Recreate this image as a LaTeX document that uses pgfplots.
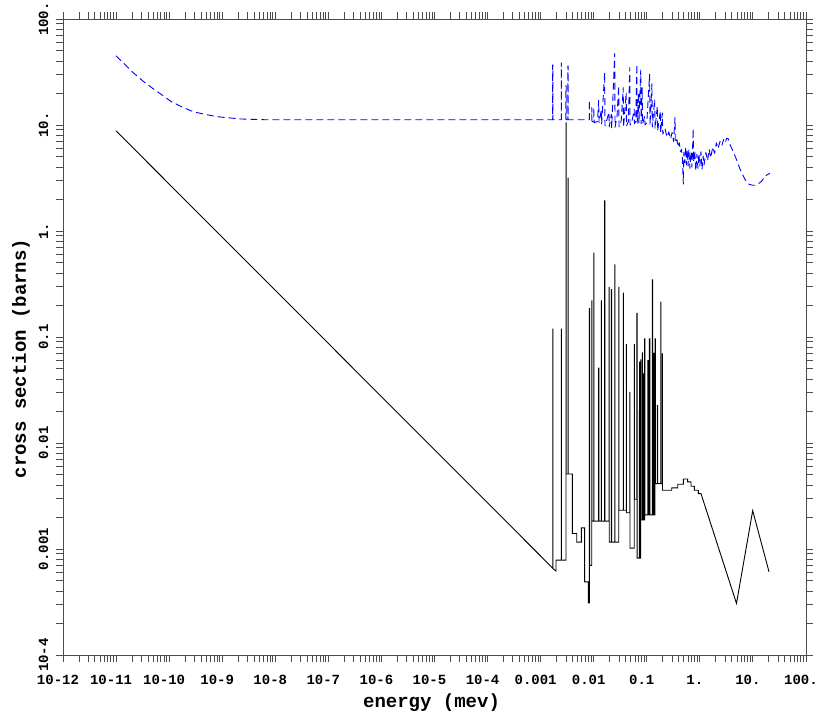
\documentclass[border=0pt]{standalone}
\usepackage{fontspec}
\setmainfont{Liberation Mono}
\usepackage{pgfplots}
\pgfplotsset{compat=1.18}
\begin{document}
\begin{tikzpicture}[x=1pt,y=1pt]
\path[use as bounding box] (0,0) rectangle (819,720);
\begin{axis}[
  at={(63pt,65pt)}, anchor=south west,
  width=743pt, height=636pt, scale only axis,
  xmode=log, ymode=log,
  xmin=1e-12, xmax=100, ymin=1e-4, ymax=100,
  xtick={1e-12,1e-11,1e-10,1e-9,1e-8,1e-7,1e-6,1e-5,1e-4,1e-3,1e-2,1e-1,1,10,100},
  xticklabels={10-12,10-11,10-10,10-9,10-8,10-7,10-6,10-5,10-4,0.001,0.01,0.1,1.,10.,100.},
  ytick={1e-4,1e-3,1e-2,1e-1,1,10,100},
  yticklabels={10-4,0.001,0.01,0.1,1.,10.,100.},
  tick align=outside,
  major tick length=7pt, minor tick length=7pt,
  axis line style={black!70, line width=0.9pt},
  every tick/.style={black!70, line width=0.9pt},
  tick label style={font=\bfseries\fontsize{14}{14}\selectfont},
  xticklabel style={anchor=base, yshift=-23pt, xshift=-5pt},
  yticklabel style={rotate=90, anchor=base},
  yticklabel shift=8pt,
  label style={font=\bfseries\fontsize{19}{19}\selectfont},
  xlabel={energy (mev)},
  ylabel={cross section (barns)},
  xlabel style={at={(axis description cs:0.496,-0.0833)}, anchor=base},
  ylabel style={at={(axis description cs:-0.0498,0.466)}, anchor=base},
]
% blue dashed: total
\addplot[blue, line width=0.9pt, dash pattern=on 7pt off 4pt, line join=round] coordinates {
(1e-11,45) (2.1e-11,31.2) (3.2e-11,26) (5.0e-11,22) (7.8e-11,18.8) (1.12e-10,16.5)
(1.86e-10,14.6) (2.9e-10,13.3) (5.1e-10,12.5) (9.1e-10,11.9) (2.2e-9,11.4) (6.9e-9,11.2)
(1e-7,11.2) (1.6e-3,11.2)
(1.68e-3,11.2) (1.68e-3,36.9) (1.70e-3,36.9) (1.70e-3,11.2)
(2.44e-3,11.2) (2.44e-3,38.5) (2.46e-3,38.5) (2.46e-3,11.2)
(2.98e-3,11.2) (2.98e-3,23.4) (3.04e-3,23.4) (3.04e-3,11.2)
(3.26e-3,11.2) (3.26e-3,36) (3.30e-3,36) (3.30e-3,11.2)
(0.0080,11.2) (0.00826,11.2) (0.00826,17.1) (0.00835,10.8)
(0.0092,10.9) (0.0092,14.6) (0.0093,10.8)
(0.0100,10.7) (0.0100,14.6) (0.0102,10.5)
(0.0118,10.8) (0.0124,17.1) (0.0126,10.5)
(0.0139,13.8) (0.0141,10.2)
(0.0161,31.2) (0.0163,9.8)
(0.0180,11.5) (0.0194,13.2) (0.0196,9.6)
(0.0215,12.6) (0.0218,9.4)
(0.0249,47.5) (0.0252,9.5)
(0.0275,12) (0.0296,23.4) (0.0300,9.6)
(0.0330,11) (0.036,22.5) (0.0364,9.5)
(0.041,20.2) (0.0415,9.8)
(0.045,10.8) (0.0478,34.8) (0.0484,10)
(0.052,10.5) (0.058,14.1) (0.0586,10.3)
(0.062,10.8) (0.065,37.4) (0.066,10.4)
(0.070,20) (0.071,10.4)
(0.077,33) (0.078,10.3)
(0.082,22.5) (0.083,10.2)
(0.091,12) (0.093,10)
(0.10,10.5) (0.113,30.1) (0.115,9.9)
(0.125,24.5) (0.127,9.6)
(0.141,17.5) (0.143,9.2)
(0.158,15) (0.16,8.8)
(0.18,13.5) (0.183,8.5)
(0.196,13) (0.2,8.2)
(0.22,9.3) (0.24,7.7) (0.26,8.6) (0.28,7.4) (0.30,8.5) (0.32,7.0) (0.34,11.8) (0.345,6.8)
(0.37,7.3) (0.39,6.2) (0.41,6.8) (0.43,5.6) (0.45,5.9) (0.47,4.8) (0.488,2.77) (0.50,5.5)
(0.52,4.4) (0.54,6.2) (0.56,4.2) (0.58,5.8) (0.60,4.1) (0.62,5.9) (0.65,3.9) (0.68,5.6)
(0.71,4.0) (0.75,9.3) (0.76,4.5) (0.80,5.7) (0.84,3.7) (0.88,5.3) (0.92,3.9) (0.96,5.4)
(1.0,4.1) (1.05,5.6) (1.1,3.8) (1.15,5.1) (1.2,4.2) (1.3,5.5) (1.4,4.6) (1.5,5.9) (1.6,4.9)
(1.75,6.2) (1.9,5.4) (2.05,6.8) (2.2,6.0) (2.4,7.0) (2.6,6.4) (2.8,7.3) (3.0,6.8) (3.2,7.5)
(3.44,7.4) (3.7,6.5) (4.27,5.6) (5.0,4.6) (5.7,3.84) (7.0,3.1) (8.2,2.77) (10,2.7)
(11.7,2.7) (14.6,2.95) (17,3.3) (19.5,3.44) (21,3.5)
};
% black solid: capture
\addplot[black, line width=0.9pt, line join=miter] coordinates {
(1e-11,8.8) (1.69e-3,6.6e-4)
(1.69e-3,0.119) (1.70e-3,0.119) (1.70e-3,6.55e-4)
(1.95e-3,6.2e-4) (1.95e-3,7.85e-4)
(2.45e-3,7.85e-4) (2.45e-3,0.119) (2.47e-3,0.119) (2.47e-3,7.85e-4)
(3.0e-3,7.85e-4) (3.0e-3,10.5) (3.04e-3,10.5) (3.04e-3,5.1e-3)
(3.28e-3,5.1e-3) (3.28e-3,3.16) (3.32e-3,3.16) (3.32e-3,5.1e-3)
(3.96e-3,5.1e-3) (3.96e-3,1.4e-3) (4.79e-3,1.4e-3) (4.79e-3,1.16e-3)
(5.85e-3,1.16e-3) (5.85e-3,1.58e-3) (6.76e-3,1.58e-3) (6.76e-3,4.9e-4)
(7.9e-3,4.9e-4) (7.9e-3,3.1e-4) (8.26e-3,3.1e-4)
(8.26e-3,0.185) (8.4e-3,0.185) (8.4e-3,7e-4)
(9.2e-3,7e-4) (9.2e-3,0.22) (9.3e-3,0.22) (9.3e-3,1.83e-3)
(0.0100,1.83e-3) (0.0100,0.62) (0.0101,0.62) (0.0101,1.83e-3)
(0.0124,1.83e-3) (0.0124,0.051) (0.0125,0.051) (0.0125,1.83e-3)
(0.0139,1.83e-3) (0.0139,0.22) (0.0140,0.22) (0.0140,1.83e-3)
(0.0161,1.83e-3) (0.0161,1.93) (0.0163,1.93) (0.0163,1.83e-3)
(0.0194,1.83e-3) (0.0194,0.294) (0.0196,0.294) (0.0196,1.16e-3)
(0.0215,1.16e-3) (0.0215,0.28) (0.0217,0.28) (0.0217,1.16e-3)
(0.0249,1.16e-3) (0.0249,0.48) (0.0252,0.48) (0.0252,1.16e-3)
(0.0296,1.16e-3) (0.0296,0.294) (0.0299,0.294) (0.0299,2.32e-3)
(0.036,2.32e-3) (0.036,0.26) (0.0364,0.26) (0.0364,2.32e-3)
(0.041,2.32e-3) (0.041,0.085) (0.0415,0.085) (0.0415,2.2e-3)
(0.0478,2.2e-3) (0.0478,0.03) (0.0483,0.03) (0.0483,1.02e-3)
(0.058,1.02e-3) (0.058,0.085) (0.0585,0.085) (0.0585,2.95e-3)
(0.065,2.95e-3) (0.065,0.167) (0.0656,0.167) (0.0656,8.2e-4)
(0.072,8.2e-4) (0.072,0.02) (0.0725,0.02) (0.0725,8.2e-4)
(0.0735,8.2e-4) (0.0735,0.058) (0.0745,0.058) (0.0745,8.2e-4)
(0.077,8.2e-4) (0.077,0.061) (0.0778,0.061) (0.0778,1.88e-3)
(0.082,1.88e-3) (0.082,0.071) (0.083,0.071) (0.083,1.88e-3)
(0.086,1.88e-3) (0.086,0.045) (0.087,0.045) (0.087,1.88e-3)
(0.091,1.88e-3) (0.091,0.096) (0.092,0.096) (0.092,2.1e-3)
(0.105,2.1e-3) (0.105,0.06) (0.107,0.06) (0.107,2.1e-3)
(0.112,2.1e-3) (0.112,0.096) (0.114,0.096) (0.114,2.1e-3)
(0.127,2.1e-3) (0.127,0.346) (0.129,0.346) (0.129,2.1e-3)
(0.136,2.1e-3) (0.136,0.07) (0.138,0.07) (0.138,2.1e-3)
(0.143,2.1e-3) (0.143,0.096) (0.145,0.096) (0.145,4.14e-3)
(0.158,4.14e-3) (0.158,0.0226) (0.16,0.0226) (0.16,4.14e-3)
(0.183,4.14e-3) (0.183,0.213) (0.185,0.213) (0.185,4.14e-3)
(0.196,4.14e-3) (0.196,0.0695) (0.198,0.0695) (0.198,3.58e-3)
(0.295,3.58e-3) (0.295,3.77e-3) (0.383,3.77e-3) (0.383,4.08e-3)
(0.488,4.08e-3) (0.488,4.58e-3) (0.59,4.58e-3) (0.59,4.3e-3)
(0.68,4.3e-3) (0.68,3.91e-3) (0.787,3.91e-3) (0.787,3.58e-3)
(0.935,3.58e-3) (0.935,3.33e-3) (1.05,3.33e-3)
(4.9,3.07e-4) (9.9,2.3e-3) (20.1,6.1e-4)
};
\end{axis}
\end{tikzpicture}
\end{document}
